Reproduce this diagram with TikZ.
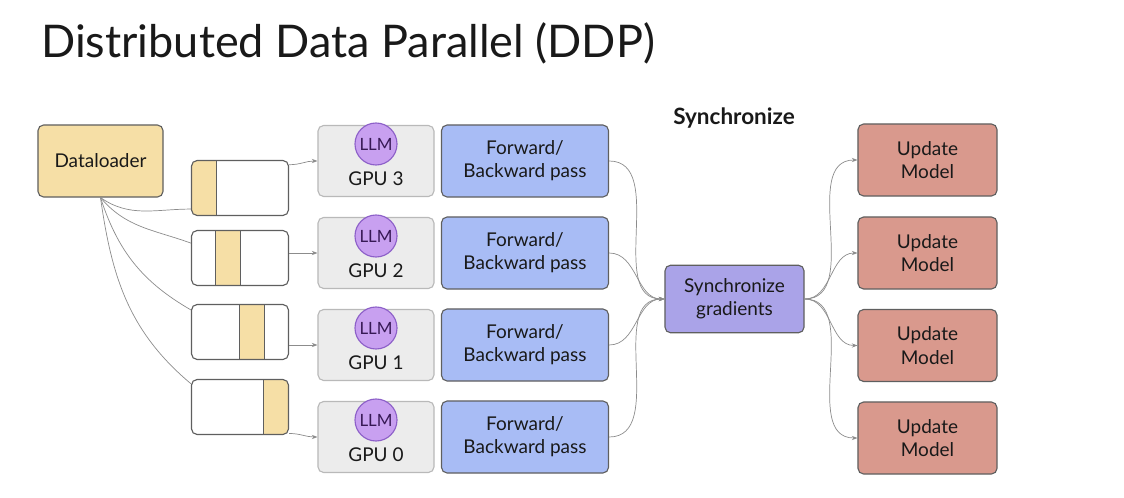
\documentclass[tikz,border=0pt]{standalone}
\usepackage{fontspec}
\setmainfont{Lato}
\usetikzlibrary{arrows.meta, positioning}
\definecolor{dlsand}{RGB}{246, 223, 166}
\definecolor{gpugray}{RGB}{236, 236, 236}
\definecolor{gpuline}{RGB}{185, 185, 185}
\definecolor{llmpurple}{RGB}{200, 160, 240}
\definecolor{llmline}{RGB}{140, 95, 200}
\definecolor{llmtext}{RGB}{55, 25, 85}
\definecolor{passblue}{RGB}{168, 188, 245}
\definecolor{syncviolet}{RGB}{170, 163, 232}
\definecolor{updsalmon}{RGB}{217, 153, 141}
\definecolor{boxline}{RGB}{95, 95, 95}
\definecolor{wiregray}{RGB}{140, 140, 140}
\definecolor{inktext}{RGB}{25, 25, 25}

\begin{document}
\begin{tikzpicture}[
  x=0.025cm, y=-0.025cm,
  box/.style={draw=boxline, line width=0.8pt, rounded corners=4pt, align=center,
              font=\fontsize{13.5}{16.5}\selectfont, text=inktext, inner sep=0pt},
  loader/.style={box, fill=dlsand, minimum width=3.125cm, minimum height=1.8cm},
  shard/.style={box, fill=white, minimum width=2.425cm, minimum height=1.375cm},
  strip/.style={path picture={\filldraw[sharp corners, fill=dlsand, draw=boxline, line width=0.8pt]
      ([xshift=#1]path picture bounding box.south west) rectangle
      ([xshift=#1+0.625cm]path picture bounding box.north west);}},
  gpu/.style={box, fill=gpugray, draw=gpuline, minimum width=2.9cm, minimum height=1.775cm},
  llm/.style={circle, draw=llmline, fill=llmpurple, line width=0.8pt, minimum size=1.05cm,
              inner sep=0pt, font=\fontsize{12}{14}\selectfont, text=llmtext},
  gpulbl/.style={font=\fontsize{13.5}{16.5}\selectfont, text=inktext, inner sep=0pt},
  pass/.style={box, fill=passblue, minimum width=4.175cm, minimum height=1.8cm},
  sync/.style={box, fill=syncviolet, minimum width=3.475cm, minimum height=1.69cm},
  upd/.style={box, fill=updsalmon, minimum width=3.475cm, minimum height=1.8cm},
  wire/.style={draw=wiregray, line width=0.5pt},
  arr/.style={wire, -{Stealth[length=4pt, width=3pt]}}
]
  \useasboundingbox (0,0) rectangle (1124,498);

  \node[anchor=base west, font=\fontsize{32}{36}\selectfont, text=inktext, inner sep=0pt]
    (title) at (41,58) {Distributed Data Parallel (DDP)};

  \node[loader] (loader) at (100.5,161) {Dataloader};

  % data shards
  \node[shard, strip=0cm]   (sh3) at (240,188) {};
  \node[shard, strip=0.6cm] (sh2) at (240,258) {};
  \node[shard, strip=1.2cm] (sh1) at (240,332) {};
  \node[shard, strip=1.8cm] (sh0) at (240,407) {};

  % workers
  \node[gpu] (gpu3) at (376,161) {};
  \node[gpu] (gpu2) at (376,253) {};
  \node[gpu] (gpu1) at (376,345) {};
  \node[gpu] (gpu0) at (376,437) {};
  \node[llm] (llm3) at (376,144) {LLM};
  \node[llm] (llm2) at (376,236) {LLM};
  \node[llm] (llm1) at (376,328) {LLM};
  \node[llm] (llm0) at (376,420) {LLM};
  \node[gpulbl] (name3) at (376,179) {GPU 3};
  \node[gpulbl] (name2) at (376,271) {GPU 2};
  \node[gpulbl] (name1) at (376,363) {GPU 1};
  \node[gpulbl] (name0) at (376,455) {GPU 0};

  \node[pass] (fb3) at (525,161) {Forward/\\Backward pass};
  \node[pass] (fb2) at (525,253) {Forward/\\Backward pass};
  \node[pass] (fb1) at (525,345) {Forward/\\Backward pass};
  \node[pass] (fb0) at (525,437) {Forward/\\Backward pass};

  \node[sync] (sync) at (734.5,299) {Synchronize\\gradients};
  \node[font=\fontsize{16}{19}\selectfont\bfseries, text=inktext] (synclbl) at (734,118) {Synchronize};

  \node[upd] (upd3) at (927.5,160) {Update\\Model};
  \node[upd] (upd2) at (927.5,253) {Update\\Model};
  \node[upd] (upd1) at (927.5,345.5) {Update\\Model};
  \node[upd] (upd0) at (927.5,438) {Update\\Model};

  % dataloader to shards
  \draw[wire] (loader.south) to[out=-35, in=180] ([yshift=0.175cm]sh3.south west);
  \draw[wire] (loader.south) to[out=-50, in=160] ([yshift=-0.33cm]sh2.north west);
  \draw[wire] (loader.south) to[out=-72, in=150] ([yshift=-0.15cm]sh1.north west);
  \draw[wire] (loader.south) to[out=-82, in=140] ([yshift=-0.12cm]sh0.north west);

  % shards to workers
  \draw[arr] ([yshift=-0.12cm]sh3.north east) to[out=0, in=180] (gpu3.west);
  \draw[arr] (sh2.east |- gpu2.west) -- (gpu2.west);
  \draw[arr] (sh1.east |- gpu1.west) -- (gpu1.west);
  \draw[arr] ([yshift=0.04cm]sh0.south east) to[out=0, in=180] (gpu0.west);

  % gradients
  \draw[arr] (fb3.east) to[out=0, in=180] (sync.west);
  \draw[arr] (fb2.east) to[out=0, in=180] (sync.west);
  \draw[arr] (fb1.east) to[out=0, in=180] (sync.west);
  \draw[arr] (fb0.east) to[out=0, in=180] (sync.west);

  % updates
  \draw[arr] (sync.east) to[out=0, in=180] (upd3.west);
  \draw[arr] (sync.east) to[out=0, in=180] (upd2.west);
  \draw[arr] (sync.east) to[out=0, in=180] (upd1.west);
  \draw[arr] (sync.east) to[out=0, in=180] (upd0.west);
\end{tikzpicture}
\end{document}
